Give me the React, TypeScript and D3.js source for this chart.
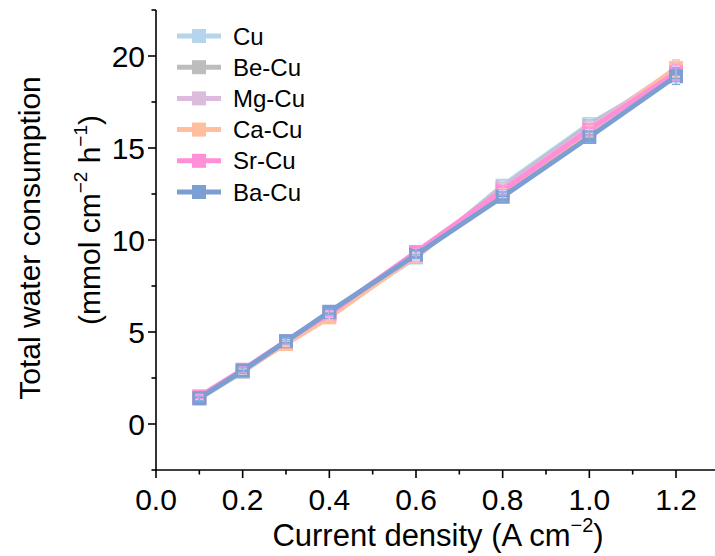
import React from "react";
import * as d3 from "d3";

const xValues = [0.1, 0.2, 0.3, 0.4, 0.6, 0.8, 1.0, 1.2];
const seriesNames = ["Cu", "Be-Cu", "Mg-Cu", "Ca-Cu", "Sr-Cu", "Ba-Cu"];
const seriesColors = ["#b5d5ec", "#bdbdbd", "#dcbbdf", "#ffbf9c", "#ff8fd6", "#7b9fd3"];
const cuValues = [1.4, 2.85, 4.45, 6.0, 9.05, 12.95, 16.3, 19.0];
const beValues = [1.4, 2.85, 4.45, 6.0, 9.1, 12.85, 16.2, 19.15];
const mgValues = [1.45, 2.9, 4.45, 5.95, 9.1, 12.8, 16.1, 19.3];
const caValues = [1.45, 2.9, 4.35, 5.8, 9.15, 12.55, 15.9, 19.35];
const srValues = [1.5, 2.95, 4.5, 6.0, 9.35, 12.7, 16.0, 19.1];
const baValues = [1.4, 2.9, 4.5, 6.1, 9.2, 12.35, 15.6, 18.9];
const errValues = [0.12, 0.15, 0.15, 0.15, 0.2, 0.25, 0.3, 0.45];
const xTicks = [0.0, 0.2, 0.4, 0.6, 0.8, 1.0, 1.2];
const xMinorTicks = [0.1, 0.3, 0.5, 0.7, 0.9, 1.1, 1.3];
const yTicks = [0, 5, 10, 15, 20];
const yMinorTicks = [-2.5, 2.5, 7.5, 12.5, 17.5, 22.5];

const allValues = [cuValues, beValues, mgValues, caValues, srValues, baValues];

const W = 715;
const H = 556;
const FONT = "'Liberation Sans', Arial, sans-serif";

export default function App() {
  const x = d3.scaleLinear().domain([0, 1.2]).range([156, 676]);
  const y = d3.scaleLinear().domain([-2.5, 22.5]).range([470, 10]);
  const line = d3
    .line<number>()
    .x((_, i) => x(xValues[i]))
    .y((d) => y(d));
  const sq = 14;
  const x0 = x(0);
  const yB = y(-2.5);

  return (
    <svg
      width={W}
      height={H}
      style={{ position: "absolute", left: 0, top: 0, background: "#fff" }}
      fontFamily={FONT}
    >
      {/* series */}
      {allValues.map((vals, s) => (
        <g key={s}>
          <path d={line(vals) || ""} fill="none" stroke={seriesColors[s]} strokeWidth={5} strokeLinejoin="round" />
          {vals.map((v, i) => (
            <rect key={i} x={x(xValues[i]) - sq / 2} y={y(v) - sq / 2} width={sq} height={sq} fill={seriesColors[s]} />
          ))}
        </g>
      ))}
      {/* error bars */}
      {allValues.map((vals, s) => (
        <g key={"e" + s} stroke={d3.color(seriesColors[s])!.brighter(0.2).toString()} strokeWidth={1.2}>
          {vals.map((v, i) => {
            const cx = x(xValues[i]);
            const e = errValues[i];
            return (
              <g key={i}>
                <line x1={cx} x2={cx} y1={y(v - e)} y2={y(v + e)} />
                <line x1={cx - 4} x2={cx + 4} y1={y(v - e)} y2={y(v - e)} />
                <line x1={cx - 4} x2={cx + 4} y1={y(v + e)} y2={y(v + e)} />
              </g>
            );
          })}
        </g>
      ))}

      {/* axes */}
      <g stroke="#000" strokeWidth={1.6}>
        <line x1={x0} x2={x0} y1={y(22.5)} y2={yB + 0.8} />
        <line x1={x0 - 0.8} x2={W} y1={yB} y2={yB} />
        {yTicks.map((t) => (
          <line key={t} x1={x0 - 8} x2={x0} y1={y(t)} y2={y(t)} />
        ))}
        {yMinorTicks.map((t) => (
          <line key={t} x1={x0 - 4.5} x2={x0} y1={y(t)} y2={y(t)} />
        ))}
        {xTicks.map((t) => (
          <line key={t} x1={x(t)} x2={x(t)} y1={yB} y2={yB + 8} />
        ))}
        {xMinorTicks.map((t) => (
          <line key={t} x1={x(t)} x2={x(t)} y1={yB} y2={yB + 4.5} />
        ))}
      </g>
      {yTicks.map((t) => (
        <text key={t} x={x0 - 11} y={y(t)} dy="0.36em" textAnchor="end" fontSize={30} fill="#000">
          {d3.format("d")(t)}
        </text>
      ))}
      {xTicks.map((t) => (
        <text key={t} x={x(t)} y={yB + 40} textAnchor="middle" fontSize={30} fill="#000">
          {d3.format(".1f")(t)}
        </text>
      ))}

      {/* axis titles */}
      <text x={438} y={546} textAnchor="middle" fontSize={31} fill="#000">
        Current density (A cm
        <tspan fontSize={20} dy={-14}>−2</tspan>
        <tspan dy={14}>)</tspan>
      </text>
      <text transform="translate(40,238) rotate(-90)" textAnchor="middle" fontSize={30} fill="#000">
        Total water consumption
      </text>
      <text transform="translate(100,220) rotate(-90)" textAnchor="middle" fontSize={30} fill="#000">
        (mmol cm
        <tspan fontSize={19} dy={-13}>−2</tspan>
        <tspan dy={13}> h</tspan>
        <tspan fontSize={19} dy={-13}>−1</tspan>
        <tspan dy={13}>)</tspan>
      </text>

      {/* legend */}
      {seriesNames.map((n, i) => {
        const ly = 36 + i * 31.2;
        return (
          <g key={n}>
            <line x1={177} x2={221} y1={ly} y2={ly} stroke={seriesColors[i]} strokeWidth={5} />
            <rect x={199 - sq / 2} y={ly - sq / 2} width={sq} height={sq} fill={seriesColors[i]} />
            <text x={233} y={ly} dy="0.36em" fontSize={24} fill="#000">
              {n}
            </text>
          </g>
        );
      })}
    </svg>
  );
}
